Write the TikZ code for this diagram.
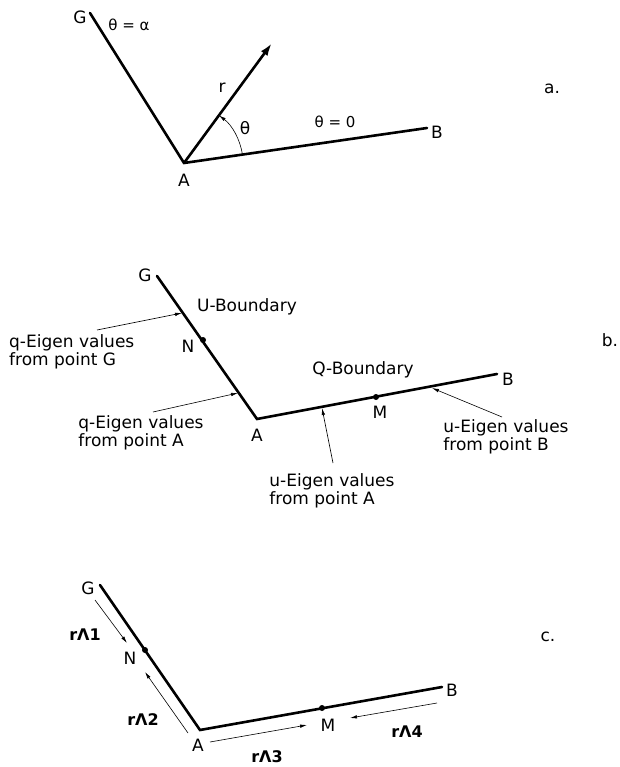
\documentclass[tikz,border=0pt]{standalone}
\usepackage{fontspec}
\setmainfont{DejaVu Sans}
\usetikzlibrary{arrows.meta,calc}

\begin{document}
\begin{tikzpicture}[x=1pt, y=-1pt,
bnd/.style={line width=2.6pt, line cap=round},
ray/.style={-{Latex[length=13pt,width=8pt]}, line width=2.6pt},
ptr/.style={-{Latex[length=7pt,width=3.5pt]}, line width=0.6pt},
lbl/.style={font=\fontsize{17}{18}\selectfont, inner sep=0pt, align=left},
lam/.style={font=\fontsize{16}{18}\selectfont\bfseries, inner sep=0pt},
dot/.style={circle, fill, inner sep=0pt, minimum size=6pt},
]
\useasboundingbox (0,0) rectangle (619,767);

% a.
\coordinate (aG) at (90,13);
\coordinate (aA) at (184,163);
\coordinate (aB) at (427,128);
\coordinate (aR) at (272,43);
\draw[bnd] (aG) -- (aA) -- (aB);
\draw[ray] (aA) -- (aR);
\draw[ptr] (aA) ++(8.2:59pt) arc[start angle=8.2, end angle=53.7, radius=59pt];
\node[lbl] (aGl) at (80,17) {G};
\node[lbl, font=\fontsize{15}{18}\selectfont] (thA) at (129,25) {θ = α};
\node[lbl] (rl) at (222,88) {r};
\node[lbl] (thl) at (245,128) {θ};
\node[lbl, font=\fontsize{15}{18}\selectfont] (th0) at (335,122) {θ = 0};
\node[lbl] (aBl) at (437,132) {B};
\node[lbl] (aAl) at (184,180) {A};
\node[lbl] (pa) at (552,89) {a.};

% b.
\coordinate (bG) at (157,276);
\coordinate (bA) at (257,419);
\coordinate (bB) at (497,374);
\draw[bnd] (bG) -- (bA) -- (bB);
\node[dot] (bN) at (203,340) {};
\node[dot] (bM) at (376,397) {};
\node[lbl] (bGl) at (145,275) {G};
\node[lbl] (bNl) at (188,346) {N};
\node[lbl] (bMl) at (380,412) {M};
\node[lbl] (bBl) at (508,379) {B};
\node[lbl] (bAl) at (257,435) {A};
\node[lbl] (ub) at (247,307) {U-Boundary};
\node[lbl] (qb) at (363,370) {Q-Boundary};
\node[lbl] (pb) at (610,340) {b.};
\node[lbl, anchor=west] (qG) at (9,352) {q-Eigen values\\from point G};
\node[lbl] (qA) at (141,433) {q-Eigen values\\from point A};
\node[lbl] (uA) at (332,491) {u-Eigen values\\from point A};
\node[lbl] (uB) at (506,437) {u-Eigen values\\from point B};
\coordinate (qGt) at (97,330);
\coordinate (qGh) at (182,313);
\coordinate (qAt) at (153,412);
\coordinate (qAh) at (238,393);
\coordinate (uAt) at (333,463);
\coordinate (uAh) at (322,408);
\coordinate (uBt) at (502,417);
\coordinate (uBh) at (432,388);
\draw[ptr] (qGt) -- (qGh);
\draw[ptr] (qAt) -- (qAh);
\draw[ptr] (uAt) -- (uAh);
\draw[ptr] (uBt) -- (uBh);

% c.
\coordinate (cG) at (100,585);
\coordinate (cA) at (200,730);
\coordinate (cB) at (442,687);
\draw[bnd] (cG) -- (cA) -- (cB);
\node[dot] (cN) at (145,650) {};
\node[dot] (cM) at (322,708) {};
\node[lbl] (cGl) at (88,588) {G};
\node[lbl] (cNl) at (130,658) {N};
\node[lbl] (cMl) at (328,725) {M};
\node[lbl] (cBl) at (452,690) {B};
\node[lbl] (cAl) at (198,745) {A};
\node[lbl] (pc) at (548,637) {c.};
\node[lam] (l1) at (85,635) {rΛ1};
\node[lam] (l2) at (143,720) {rΛ2};
\node[lam] (l3) at (267,757) {rΛ3};
\node[lam] (l4) at (407,732) {rΛ4};
\coordinate (l1t) at (95,600);
\coordinate (l1h) at (127,643);
\coordinate (l2t) at (188,733);
\coordinate (l2h) at (145,672);
\coordinate (l3t) at (210,742);
\coordinate (l3h) at (307,725);
\coordinate (l4t) at (437,703);
\coordinate (l4h) at (350,718);
\draw[ptr] (l1t) -- (l1h);
\draw[ptr] (l2t) -- (l2h);
\draw[ptr] (l3t) -- (l3h);
\draw[ptr] (l4t) -- (l4h);
\end{tikzpicture}
\end{document}
